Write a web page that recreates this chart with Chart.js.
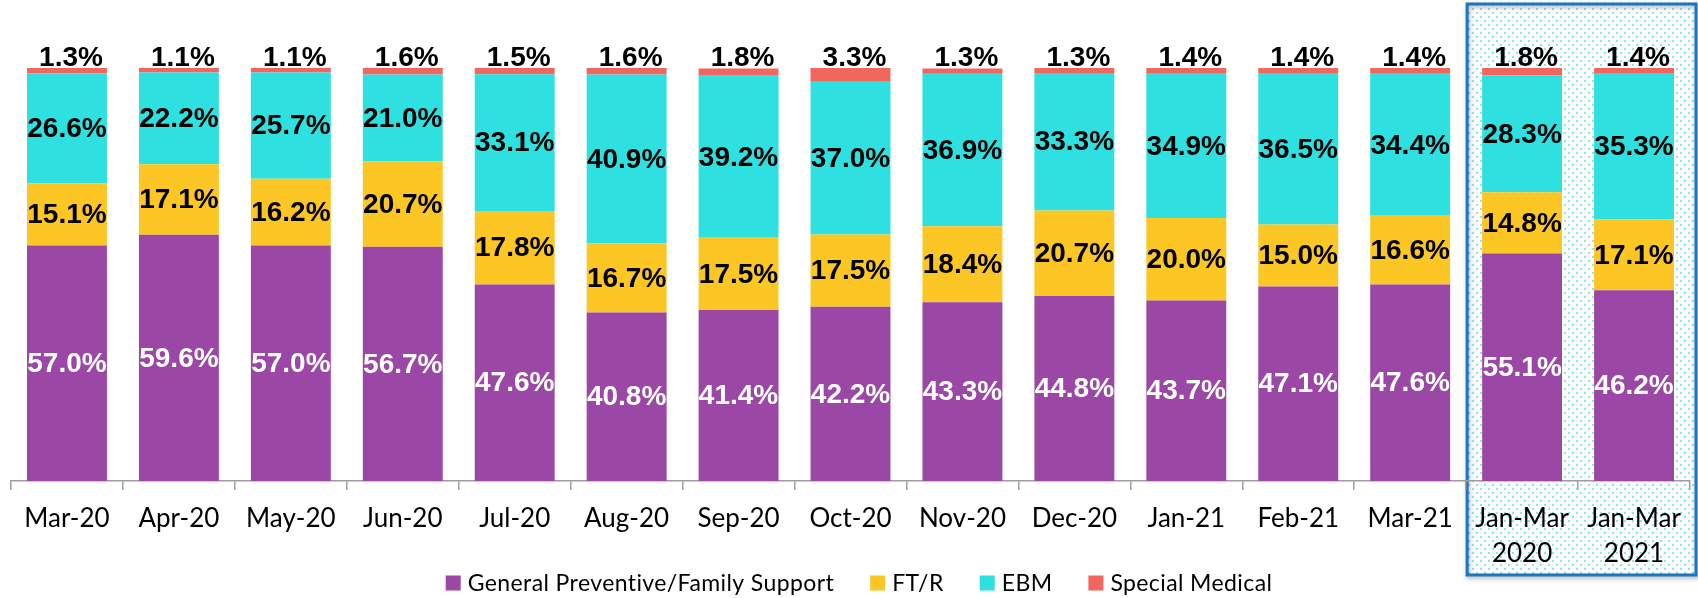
<!DOCTYPE html>
<html>
<head>
<meta charset="utf-8">
<script src="https://cdn.jsdelivr.net/npm/chart.js@4.4.1/dist/chart.umd.min.js"></script>
<style>
    body { margin: 0; background: #fff; }
    #chart-container { width: 1698px; height: 598px; position: relative; }
</style>
</head>
<body>
<div id="chart-container"><canvas id="mix-chart"></canvas></div>
<script>
// Chart data
const months = ['Mar-20', 'Apr-20', 'May-20', 'Jun-20', 'Jul-20', 'Aug-20', 'Sep-20', 'Oct-20',
    'Nov-20', 'Dec-20', 'Jan-21', 'Feb-21', 'Mar-21', ['Jan-Mar', '2020'], ['Jan-Mar', '2021']];
const generalSupport = [57.0, 59.6, 57.0, 56.7, 47.6, 40.8, 41.4, 42.2, 43.3, 44.8, 43.7, 47.1, 47.6, 55.1, 46.2];
const ftr = [15.1, 17.1, 16.2, 20.7, 17.8, 16.7, 17.5, 17.5, 18.4, 20.7, 20.0, 15.0, 16.6, 14.8, 17.1];
const ebm = [26.6, 22.2, 25.7, 21.0, 33.1, 40.9, 39.2, 37.0, 36.9, 33.3, 34.9, 36.5, 34.4, 28.3, 35.3];
const specialMedical = [1.3, 1.1, 1.1, 1.6, 1.5, 1.6, 1.8, 3.3, 1.3, 1.3, 1.4, 1.4, 1.4, 1.8, 1.4];
const highlightFrom = 13; // the two quarter totals get the boxed background

document.addEventListener('DOMContentLoaded', function () {
    const canvas = document.getElementById('mix-chart');

    // dotted cyan fill for the highlight box
    const tile = document.createElement('canvas');
    tile.width = 8;
    tile.height = 8;
    const tctx = tile.getContext('2d');
    tctx.fillStyle = '#ffffff';
    tctx.fillRect(0, 0, 8, 8);
    tctx.fillStyle = '#86e8e8';
    tctx.fillRect(0, 0, 2, 2);
    tctx.fillRect(4, 4, 2, 2);

    const highlightBox = {
        id: 'highlightBox',
        beforeDraw(chart) {
            const ctx = chart.ctx;
            const x = chart.scales.x;
            const left = (x.getPixelForValue(highlightFrom - 1) + x.getPixelForValue(highlightFrom)) / 2 + 1;
            const right = chart.width - 2;
            const top = 4;
            const bottom = 575;
            ctx.save();
            ctx.fillStyle = ctx.createPattern(tile, 'repeat');
            ctx.fillRect(left, top, right - left, bottom - top);
            ctx.shadowColor = 'rgba(0,0,0,0.35)';
            ctx.shadowBlur = 4;
            ctx.shadowOffsetX = 1;
            ctx.shadowOffsetY = 2;
            ctx.strokeStyle = '#1a76c2';
            ctx.lineWidth = 3;
            ctx.strokeRect(left, top, right - left, bottom - top);
            ctx.restore();
        }
    };

    const valueLabels = {
        id: 'valueLabels',
        afterDatasetsDraw(chart) {
            const ctx = chart.ctx;
            ctx.save();
            ctx.font = 'bold 28px "Liberation Sans", Arial, sans-serif';
            ctx.textAlign = 'center';
            chart.data.datasets.forEach(function (ds, di) {
                const meta = chart.getDatasetMeta(di);
                meta.data.forEach(function (bar, i) {
                    const text = ds.data[i].toFixed(1) + '%';
                    if (di === 3) {
                        ctx.fillStyle = '#000';
                        ctx.textBaseline = 'alphabetic';
                        ctx.fillText(text, bar.x + 4, bar.y - 2);
                    } else {
                        ctx.fillStyle = di === 0 ? '#fff' : '#000';
                        ctx.textBaseline = 'middle';
                        ctx.fillText(text, bar.x, (bar.y + bar.base) / 2 + 1);
                    }
                });
            });
            ctx.restore();
        }
    };

    // legend drawn by hand so the spacing matches
    const bottomLegend = {
        id: 'bottomLegend',
        afterDraw(chart) {
            const ctx = chart.ctx;
            const box = 15, gap = 7, spacing = 36, y = 583;
            ctx.save();
            ctx.font = '23px Lato, sans-serif';
            if ('letterSpacing' in ctx) ctx.letterSpacing = '0.4px';
            const items = chart.data.datasets.map(function (ds) {
                return { label: ds.label, color: ds.backgroundColor, w: ctx.measureText(ds.label).width };
            });
            let total = 0;
            items.forEach(function (it, i) {
                total += box + gap + it.w + (i > 0 ? spacing : 0);
            });
            let x = chart.width / 2 + 10 - total / 2;
            ctx.textBaseline = 'middle';
            ctx.textAlign = 'left';
            items.forEach(function (it) {
                ctx.fillStyle = it.color;
                ctx.fillRect(x, y - box / 2, box, box);
                ctx.fillStyle = '#000';
                ctx.fillText(it.label, x + box + gap, y + 1);
                x += box + gap + it.w + spacing;
            });
            ctx.restore();
        }
    };

    new Chart(canvas, {
        type: 'bar',
        data: {
            labels: months,
            datasets: [
                { label: 'General Preventive/Family Support', data: generalSupport, backgroundColor: '#9a47a6' },
                { label: 'FT/R', data: ftr, backgroundColor: '#fcc624' },
                { label: 'EBM', data: ebm, backgroundColor: '#2ee0df' },
                { label: 'Special Medical', data: specialMedical, backgroundColor: '#f2665e' }
            ]
        },
        options: {
            responsive: true,
            maintainAspectRatio: false,
            animation: false,
            layout: { padding: { top: 68, left: 11, right: 8, bottom: 0 } },
            datasets: { bar: { barPercentage: 0.714, categoryPercentage: 1 } },
            plugins: {
                legend: { display: false },
                tooltip: { enabled: false }
            },
            scales: {
                x: {
                    stacked: true,
                    grid: { drawOnChartArea: false, drawTicks: true, tickLength: 9, color: '#9d9d9d', lineWidth: 1.5 },
                    border: { color: '#9d9d9d', width: 1.5 },
                    ticks: {
                        color: '#000',
                        padding: 11,
                        maxRotation: 0,
                        autoSkip: false,
                        font: { family: 'Lato', size: 26, lineHeight: 1.35 }
                    },
                    // room below the axis for labels and the legend
                    afterFit: function (scale) {
                        scale.height = 117;
                    }
                },
                y: {
                    stacked: true,
                    display: false,
                    min: 0,
                    max: 100
                }
            }
        },
        plugins: [highlightBox, valueLabels, bottomLegend]
    });
});
</script>
</body>
</html>
